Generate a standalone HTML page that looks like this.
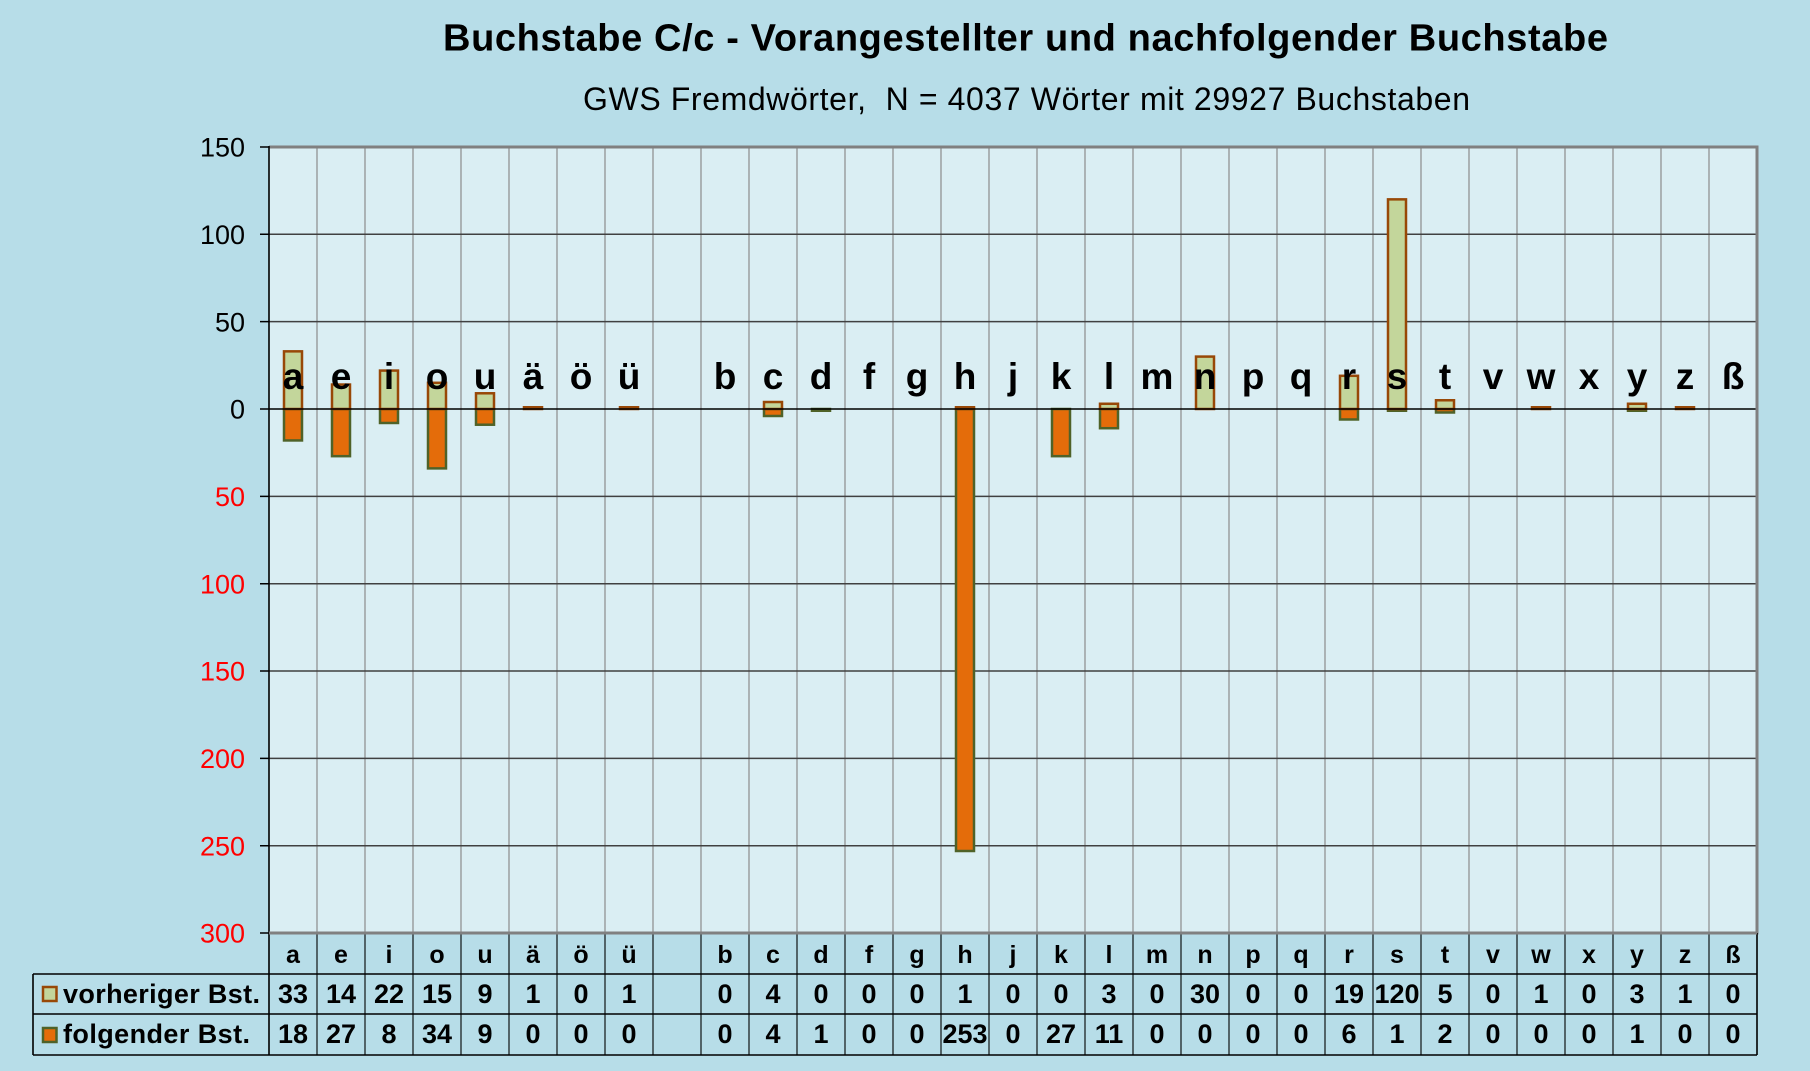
<!DOCTYPE html>
<html>
<head>
<meta charset="utf-8">
<style>
html,body{margin:0;padding:0;background:#B7DDE8;}
svg{display:block;}
text{font-family:"Liberation Sans",Arial,sans-serif;}
</style>
</head>
<body>
<svg width="1810" height="1071" viewBox="0 0 1810 1071" xmlns="http://www.w3.org/2000/svg">
<rect x="0" y="0" width="1810" height="1071" fill="#B7DDE8"/>

<!-- Titles -->
<text x="443" y="50.7" font-size="38" font-weight="bold" fill="#000" textLength="1165" lengthAdjust="spacing">Buchstabe C/c - Vorangestellter und nachfolgender Buchstabe</text>
<text x="583" y="110" font-size="32" fill="#000" textLength="887" lengthAdjust="spacing" xml:space="preserve">GWS Fremdwörter,  N = 4037 Wörter mit 29927 Buchstaben</text>

<!-- Plot area -->
<rect x="269" y="147" width="1488" height="786" fill="#DAEEF3"/>

<!-- vertical gridlines -->
<path d="M317 147V933M365 147V933M413 147V933M461 147V933M509 147V933M557 147V933M605 147V933M653 147V933M701 147V933M749 147V933M797 147V933M845 147V933M893 147V933M941 147V933M989 147V933M1037 147V933M1085 147V933M1133 147V933M1181 147V933M1229 147V933M1277 147V933M1325 147V933M1373 147V933M1421 147V933M1469 147V933M1517 147V933M1565 147V933M1613 147V933M1661 147V933M1709 147V933" stroke="#8C8C8C" stroke-width="1.2" fill="none"/>

<!-- horizontal gridlines -->
<path d="M269 234.3H1757M269 321.65H1757M269 496.35H1757M269 583.7H1757M269 671.05H1757M269 758.4H1757M269 845.75H1757" stroke="#404040" stroke-width="1.5" fill="none"/>

<!-- Lower bars (folgender) -->
<g fill="#E46C0A" stroke="#4F6228" stroke-width="2.5">
<rect x="284" y="409" width="18" height="31.45"/>
<rect x="332" y="409" width="18" height="47.17"/>
<rect x="380" y="409" width="18" height="13.98"/>
<rect x="428" y="409" width="18" height="59.4"/>
<rect x="476" y="409" width="18" height="15.72"/>
<rect x="764" y="409" width="18" height="6.99"/>
<rect x="812" y="409" width="18" height="1.75"/>
<rect x="956" y="409" width="18" height="442"/>
<rect x="1052" y="409" width="18" height="47.17"/>
<rect x="1100" y="409" width="18" height="19.22"/>
<rect x="1340" y="409" width="18" height="10.48"/>
<rect x="1388" y="409" width="18" height="1.75"/>
<rect x="1436" y="409" width="18" height="3.49"/>
<rect x="1628" y="409" width="18" height="1.75"/>
</g>

<!-- Upper bars (vorheriger) -->
<g fill="#C3D69B" stroke="#984807" stroke-width="2.5">
<rect x="284" y="351.35" width="18" height="57.65"/>
<rect x="332" y="384.54" width="18" height="24.46"/>
<rect x="380" y="370.57" width="18" height="38.43"/>
<rect x="428" y="382.8" width="18" height="26.2"/>
<rect x="476" y="393.28" width="18" height="15.72"/>
<rect x="524" y="407.25" width="18" height="1.75"/>
<rect x="620" y="407.25" width="18" height="1.75"/>
<rect x="764" y="402.01" width="18" height="6.99"/>
<rect x="956" y="407.25" width="18" height="1.75"/>
<rect x="1100" y="403.76" width="18" height="5.24"/>
<rect x="1196" y="356.59" width="18" height="52.41"/>
<rect x="1340" y="375.81" width="18" height="33.19"/>
<rect x="1388" y="199.36" width="18" height="209.64"/>
<rect x="1436" y="400.26" width="18" height="8.74"/>
<rect x="1532" y="407.25" width="18" height="1.75"/>
<rect x="1628" y="403.76" width="18" height="5.24"/>
<rect x="1676" y="407.25" width="18" height="1.75"/>
</g>

<!-- zero line -->
<path d="M269 409H1757" stroke="#000" stroke-width="1.6"/>

<!-- Big letters -->
<g font-size="37" font-weight="bold" fill="#000" text-anchor="middle">
<text x="293" y="389">a</text>
<text x="341" y="389">e</text>
<text x="389" y="389">i</text>
<text x="437" y="389">o</text>
<text x="485" y="389">u</text>
<text x="533" y="389">ä</text>
<text x="581" y="389">ö</text>
<text x="629" y="389">ü</text>
<text x="725" y="389">b</text>
<text x="773" y="389">c</text>
<text x="821" y="389">d</text>
<text x="869" y="389">f</text>
<text x="917" y="389">g</text>
<text x="965" y="389">h</text>
<text x="1013" y="389">j</text>
<text x="1061" y="389">k</text>
<text x="1109" y="389">l</text>
<text x="1157" y="389">m</text>
<text x="1205" y="389">n</text>
<text x="1253" y="389">p</text>
<text x="1301" y="389">q</text>
<text x="1349" y="389">r</text>
<text x="1397" y="389">s</text>
<text x="1445" y="389">t</text>
<text x="1493" y="389">v</text>
<text x="1541" y="389">w</text>
<text x="1589" y="389">x</text>
<text x="1637" y="389">y</text>
<text x="1685" y="389">z</text>
<text x="1733" y="389">ß</text>
</g>

<!-- Plot borders -->
<path d="M269 147H1757V933H269" stroke="#808080" stroke-width="3" fill="none"/>
<path d="M269 146V934" stroke="#000" stroke-width="1.6"/>
<!-- ticks -->
<path d="M260 147H269M260 234.3H269M260 321.65H269M260 409H269M260 496.35H269M260 583.7H269M260 671.05H269M260 758.4H269M260 845.75H269M260 933H269" stroke="#000" stroke-width="1.5"/>

<!-- Y tick labels -->
<g font-size="27" text-anchor="end">
<text x="245" y="156.7" fill="#000">150</text>
<text x="245" y="244" fill="#000">100</text>
<text x="245" y="331.3" fill="#000">50</text>
<text x="245" y="418.7" fill="#000">0</text>
<text x="245" y="506" fill="#FF0000">50</text>
<text x="245" y="593.4" fill="#FF0000">100</text>
<text x="245" y="680.7" fill="#FF0000">150</text>
<text x="245" y="768.1" fill="#FF0000">200</text>
<text x="245" y="855.4" fill="#FF0000">250</text>
<text x="245" y="942.7" fill="#FF0000">300</text>
</g>

<!-- Data table lines -->
<path d="M33 974H1757M33 1014H1757M33 1055H1757M33 974V1055M269 933V1055M1757 933V1055" stroke="#000" stroke-width="1.6" fill="none"/>
<path d="M317 933V1055M365 933V1055M413 933V1055M461 933V1055M509 933V1055M557 933V1055M605 933V1055M653 933V1055M701 933V1055M749 933V1055M797 933V1055M845 933V1055M893 933V1055M941 933V1055M989 933V1055M1037 933V1055M1085 933V1055M1133 933V1055M1181 933V1055M1229 933V1055M1277 933V1055M1325 933V1055M1373 933V1055M1421 933V1055M1469 933V1055M1517 933V1055M1565 933V1055M1613 933V1055M1661 933V1055M1709 933V1055" stroke="#000" stroke-width="1.1" fill="none"/>
<path d="M269 933H1757" stroke="#808080" stroke-width="3"/>

<!-- Legend keys -->
<rect x="43" y="987" width="13.5" height="14" fill="#C3D69B" stroke="#984807" stroke-width="2.5"/>
<rect x="43" y="1028" width="13.5" height="14" fill="#E46C0A" stroke="#4F6228" stroke-width="2.5"/>
<text x="63" y="1003" font-size="27" font-weight="bold" textLength="197" lengthAdjust="spacing">vorheriger Bst.</text>
<text x="63" y="1043" font-size="27" font-weight="bold" textLength="187" lengthAdjust="spacing">folgender Bst.</text>

<!-- Header row -->
<g font-size="25" font-weight="bold" text-anchor="middle">
<text x="293" y="963">a</text>
<text x="341" y="963">e</text>
<text x="389" y="963">i</text>
<text x="437" y="963">o</text>
<text x="485" y="963">u</text>
<text x="533" y="963">ä</text>
<text x="581" y="963">ö</text>
<text x="629" y="963">ü</text>
<text x="725" y="963">b</text>
<text x="773" y="963">c</text>
<text x="821" y="963">d</text>
<text x="869" y="963">f</text>
<text x="917" y="963">g</text>
<text x="965" y="963">h</text>
<text x="1013" y="963">j</text>
<text x="1061" y="963">k</text>
<text x="1109" y="963">l</text>
<text x="1157" y="963">m</text>
<text x="1205" y="963">n</text>
<text x="1253" y="963">p</text>
<text x="1301" y="963">q</text>
<text x="1349" y="963">r</text>
<text x="1397" y="963">s</text>
<text x="1445" y="963">t</text>
<text x="1493" y="963">v</text>
<text x="1541" y="963">w</text>
<text x="1589" y="963">x</text>
<text x="1637" y="963">y</text>
<text x="1685" y="963">z</text>
<text x="1733" y="963">ß</text>
</g>

<!-- Row 1: vorheriger -->
<g font-size="27" font-weight="bold" text-anchor="middle">
<text x="293" y="1003">33</text>
<text x="341" y="1003">14</text>
<text x="389" y="1003">22</text>
<text x="437" y="1003">15</text>
<text x="485" y="1003">9</text>
<text x="533" y="1003">1</text>
<text x="581" y="1003">0</text>
<text x="629" y="1003">1</text>
<text x="725" y="1003">0</text>
<text x="773" y="1003">4</text>
<text x="821" y="1003">0</text>
<text x="869" y="1003">0</text>
<text x="917" y="1003">0</text>
<text x="965" y="1003">1</text>
<text x="1013" y="1003">0</text>
<text x="1061" y="1003">0</text>
<text x="1109" y="1003">3</text>
<text x="1157" y="1003">0</text>
<text x="1205" y="1003">30</text>
<text x="1253" y="1003">0</text>
<text x="1301" y="1003">0</text>
<text x="1349" y="1003">19</text>
<text x="1397" y="1003">120</text>
<text x="1445" y="1003">5</text>
<text x="1493" y="1003">0</text>
<text x="1541" y="1003">1</text>
<text x="1589" y="1003">0</text>
<text x="1637" y="1003">3</text>
<text x="1685" y="1003">1</text>
<text x="1733" y="1003">0</text>
</g>

<!-- Row 2: folgender -->
<g font-size="27" font-weight="bold" text-anchor="middle">
<text x="293" y="1043">18</text>
<text x="341" y="1043">27</text>
<text x="389" y="1043">8</text>
<text x="437" y="1043">34</text>
<text x="485" y="1043">9</text>
<text x="533" y="1043">0</text>
<text x="581" y="1043">0</text>
<text x="629" y="1043">0</text>
<text x="725" y="1043">0</text>
<text x="773" y="1043">4</text>
<text x="821" y="1043">1</text>
<text x="869" y="1043">0</text>
<text x="917" y="1043">0</text>
<text x="965" y="1043">253</text>
<text x="1013" y="1043">0</text>
<text x="1061" y="1043">27</text>
<text x="1109" y="1043">11</text>
<text x="1157" y="1043">0</text>
<text x="1205" y="1043">0</text>
<text x="1253" y="1043">0</text>
<text x="1301" y="1043">0</text>
<text x="1349" y="1043">6</text>
<text x="1397" y="1043">1</text>
<text x="1445" y="1043">2</text>
<text x="1493" y="1043">0</text>
<text x="1541" y="1043">0</text>
<text x="1589" y="1043">0</text>
<text x="1637" y="1043">1</text>
<text x="1685" y="1043">0</text>
<text x="1733" y="1043">0</text>
</g>
</svg>
</body>
</html>
